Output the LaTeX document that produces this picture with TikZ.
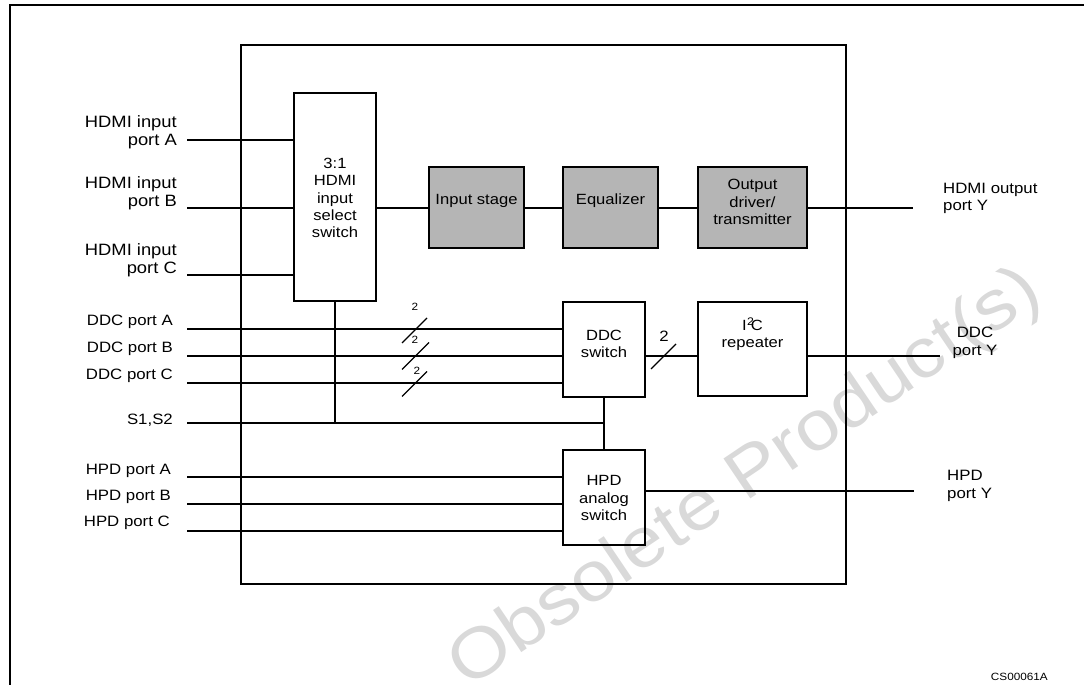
\documentclass[tikz,border=0pt]{standalone}
\usepackage{fontspec}
\setmainfont{Liberation Sans}[FakeStretch=1.12]
\definecolor{boxgray}{gray}{0.71}
\definecolor{wmgray}{gray}{0.85}
\begin{document}
\begin{tikzpicture}[x=1pt,y=-1pt,
  blk/.style={draw, line width=2pt, inner sep=0pt},
  gblk/.style={blk, fill=boxgray},
  chipbox/.style={draw, line width=1.3pt, inner sep=0pt},
  wire/.style={line width=1.1pt},
  frame/.style={line width=2.6pt},
  lbl/.style={inner sep=0pt, align=center, font=\fontsize{15}{17.5}\selectfont},
  boxtxt/.style={inner sep=0pt, align=center, font=\fontsize{14.8}{17.4}\selectfont},
  lbll/.style={lbl, align=right, anchor=east},
  biglbl/.style={lbll, font=\fontsize{16.4}{18.5}\selectfont},
  lblr/.style={lbl, align=left, anchor=west},
  small/.style={inner sep=0pt, font=\fontsize{10.5}{12}\selectfont},
  wm/.style={inner sep=0pt, text=wmgray, rotate=34, font=\fontsize{70}{80}\selectfont}
]
\useasboundingbox (0,0) rectangle (1084,685);
% watermark
\node[wm] (wm) at (746,480) {Obsolete Product(s)};
% outer frame
\draw[frame] (1084,5) -- (10,5) -- (10,686);
% chip outline
\node[chipbox, minimum width=605pt, minimum height=539pt] (chip) at (543.5,314.5) {};
% blocks
\node[blk, minimum width=82pt, minimum height=208pt] (mux) at (335,197) {};
\node[boxtxt] (muxT) at (335,198) {3:1\\HDMI\\input\\select\\switch};
\node[gblk, minimum width=95pt, minimum height=81pt] (ins) at (476.5,207.5) {};
\node[boxtxt] (insT) at (476.5,201) {Input stage};
\node[gblk, minimum width=95pt, minimum height=81pt] (eq) at (610.5,207.5) {};
\node[boxtxt] (eqT) at (610.5,201) {Equalizer};
\node[gblk, minimum width=109pt, minimum height=81pt] (drv) at (752.5,207.5) {};
\node[boxtxt] (drvT) at (752.5,202) {Output\\driver/\\transmitter};
\node[blk, minimum width=82pt, minimum height=95pt] (ddc) at (604,349.5) {};
\node[boxtxt] (ddcT) at (604,344) {DDC\\switch};
\node[blk, minimum width=109pt, minimum height=94pt] (i2c) at (752.5,349) {};
\node[boxtxt] (i2cT) at (752.5,334) {I\kern0.3pt\raisebox{0.62ex}{\fontsize{11}{12}\selectfont 2}\kern-3.2pt C\\repeater};
\node[blk, minimum width=82pt, minimum height=95pt] (hpd) at (604,497.5) {};
\node[boxtxt] (hpdT) at (604,498) {HPD\\analog\\switch};
% left labels
\node[biglbl] (lA) at (177,132.5) {HDMI input\\port A};
\node[biglbl] (lB) at (177,193.5) {HDMI input\\port B};
\node[biglbl] (lC) at (177,260.5) {HDMI input\\port C};
\node[lbll] (lDA) at (173,322) {DDC port A};
\node[lbll] (lDB) at (173,349) {DDC port B};
\node[lbll] (lDC) at (173,376) {DDC port C};
\node[lbll] (lS) at (173,420) {S1,S2};
\node[lbll] (lHA) at (171,471) {HPD port A};
\node[lbll] (lHB) at (171,497) {HPD port B};
\node[lbll] (lHC) at (170,523) {HPD port C};
% right labels
\node[lblr] (rH) at (943,198.5) {HDMI output\\port Y};
\node[lbl] (rD) at (975,343) {DDC\\port Y};
\node[lblr] (rP) at (947,486) {HPD\\port Y};
\node[small, anchor=south east] (code) at (1048,681) {CS00061A};
% wire end points
\coordinate (inA) at (187,140);
\coordinate (inB) at (187,208);
\coordinate (inC) at (187,275);
\coordinate (dA) at (187,329);
\coordinate (dB) at (187,356);
\coordinate (dC) at (187,383);
\coordinate (sS) at (187,423);
\coordinate (hA) at (187,477);
\coordinate (hB) at (187,504);
\coordinate (hC) at (187,531);
\coordinate (oH) at (913,208);
\coordinate (oD) at (940,356);
\coordinate (oP) at (914,491);
\coordinate (jm) at (335,423);
\coordinate (js) at (604,423);
% HDMI wires
\draw[wire] (inA) -- (inA -| mux.west);
\draw[wire] (inB) -- (inB -| mux.west);
\draw[wire] (inC) -- (inC -| mux.west);
\draw[wire] (inB -| mux.east) -- (inB -| ins.west);
\draw[wire] (inB -| ins.east) -- (inB -| eq.west);
\draw[wire] (inB -| eq.east) -- (inB -| drv.west);
\draw[wire] (inB -| drv.east) -- (oH);
% DDC wires
\draw[wire] (dA) -- (dA -| ddc.west);
\draw[wire] (dB) -- (dB -| ddc.west);
\draw[wire] (dC) -- (dC -| ddc.west);
\draw[wire] (dB -| ddc.east) -- (dB -| i2c.west);
\draw[wire] (dB -| i2c.east) -- (oD);
% bus slashes
\coordinate (b1) at (414.5,330.5);
\coordinate (b2) at (415.5,356);
\coordinate (b3) at (414.5,384);
\coordinate (b4) at (663.5,356.5);
\draw[wire] ([shift={(-12.5,12.5)}]b1) -- ([shift={(12.5,-12.5)}]b1);
\draw[wire] ([shift={(-13.5,13.5)}]b2) -- ([shift={(13.5,-13.5)}]b2);
\draw[wire] ([shift={(-12.5,12.5)}]b3) -- ([shift={(12.5,-12.5)}]b3);
\draw[wire] ([shift={(-12.5,12.5)}]b4) -- ([shift={(12.5,-12.5)}]b4);
\node[small] (n1) at (415,307) {2};
\node[small] (n2) at (415,340) {2};
\node[small] (n3) at (417,371) {2};
\node[lbl] (n4) at (664,336) {2};
% select wires
\draw[wire] (mux.south) -- (jm);
\draw[wire] (sS) -- (js);
\draw[wire] (ddc.south) -- (hpd.north);
% HPD wires
\draw[wire] (hA) -- (hA -| hpd.west);
\draw[wire] (hB) -- (hB -| hpd.west);
\draw[wire] (hC) -- (hC -| hpd.west);
\draw[wire] (oP -| hpd.east) -- (oP);
\end{tikzpicture}
\end{document}
